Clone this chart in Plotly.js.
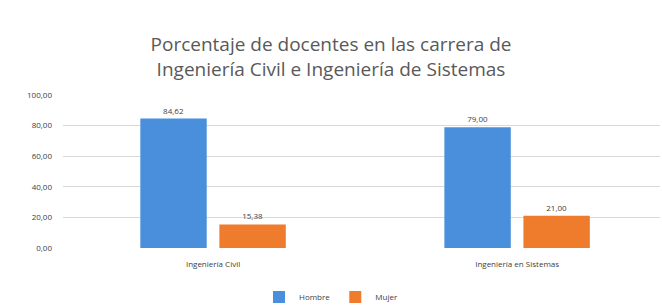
<!DOCTYPE html>
<html>
<head>
<meta charset="utf-8">
<script src="https://cdn.plot.ly/plotly-3.0.1.min.js"></script>
<style>html,body{margin:0;padding:0;background:#fff;}#chart{width:662px;height:307px;}</style>
</head>
<body>
<div id="chart"></div>
<script>
const categories = ["Ingeniería Civil", "Ingeniería en Sistemas"];
const hombre = [84.62, 79.00];
const mujer = [15.38, 21.00];
const seriesNames = ["Hombre", "Mujer"];
const yTicks = [0, 20, 40, 60, 80, 100];

const labelFont = {family: "Open Sans, Liberation Sans, sans-serif", size: 8, color: "#404040"};
const traces = [
  {type: "bar", name: seriesNames[0], x: categories, y: hombre, marker: {color: "#4a8fdb"},
   texttemplate: "%{y:.2f}", textposition: "outside", textfont: labelFont, cliponaxis: false},
  {type: "bar", name: seriesNames[1], x: categories, y: mujer, marker: {color: "#ef7b2d"},
   texttemplate: "%{y:.2f}", textposition: "outside", textfont: labelFont, cliponaxis: false}
];
const layout = {
  width: 662, height: 307,
  margin: {l: 63, r: 2, t: 95, b: 59, autoexpand: false},
  paper_bgcolor: "#fff", plot_bgcolor: "#fff",
  separators: ",.",
  barmode: "group", bargap: 0.48, bargroupgap: 0.16,
  title: {text: "Porcentaje de docentes en las carrera de<br>Ingeniería Civil e Ingeniería de Sistemas",
    font: {family: "Open Sans, Liberation Sans, sans-serif", size: 19, color: "#595959"},
    x: 0.5, xanchor: "center", xref: "container", y: 1 - 51/307, yanchor: "top", yref: "container"},
  xaxis: {tickfont: labelFont, showgrid: false, zeroline: false, showline: false,
    range: [-0.4935, 1.47],
    ticks: "outside", ticklen: 8, tickcolor: "rgba(0,0,0,0)", automargin: false},
  yaxis: {range: [0, 100], tickvals: yTicks, tickformat: ".2f", tickfont: labelFont,
    gridcolor: "#d9d9d9", gridwidth: 1, zeroline: false, showline: false, ticks: "",
    ticklabelstandoff: 10, automargin: false},
  legend: {orientation: "h", x: 0.5, xanchor: "center", xref: "container",
    y: 1 - 297/307, yanchor: "middle", yref: "container",
    font: labelFont, itemwidth: 30, tracegroupgap: 0},
  showlegend: true
};
Plotly.newPlot("chart", traces, layout, {displayModeBar: false, staticPlot: true});
</script>
</body>
</html>
